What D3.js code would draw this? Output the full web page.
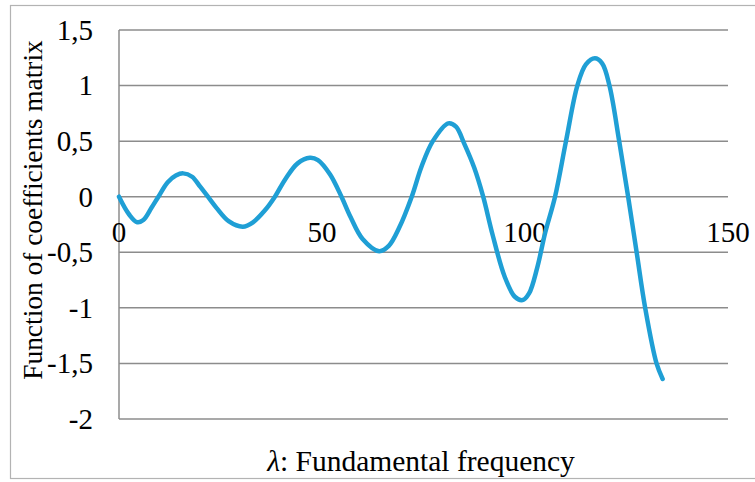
<!DOCTYPE html>
<html>
  <head>
    <script src="https://d3js.org/d3.v7.min.js"></script>
    <style>
      body { margin: 0; background: #fff; }
      text { font-family: "Liberation Serif", "DejaVu Serif", serif; fill: #000; }
      .grid line { stroke: #8c8c8c; stroke-width: 1.5px; }
      .tick-label { font-size: 29px; }
      .x-title { font-size: 29.5px; }
      .y-title { font-size: 27.4px; }
    </style>
  </head>
  <body>
    <svg width="755" height="482"></svg>
    <script>
      // values
      const lambda = [0, 2.5, 4.5, 6, 8, 9.7, 12, 14, 15.8, 18, 20, 21.9, 24, 27, 30.5, 33, 36, 38.4,
        41, 44, 47, 49, 52, 54.8, 57, 60, 64.1, 66.5, 69, 72.1, 74.5, 77.3, 81.1, 83, 85, 87.5, 89.7,
        92, 95, 97.5, 99.4, 101, 103, 105, 107.4, 110.1, 112.9, 115, 117.2, 119, 120.8, 123.2, 125.4,
        127.5, 129.6, 132.4, 133.9];
      const coef = [0, -0.16, -0.23, -0.21, -0.1, 0, 0.13, 0.19, 0.21, 0.18, 0.09, 0, -0.1, -0.22, -0.27, -0.23, -0.12, 0,
        0.16, 0.3, 0.35, 0.33, 0.2, 0, -0.18, -0.38, -0.49, -0.44, -0.28, 0, 0.27, 0.5, 0.66, 0.63, 0.48, 0.26, 0,
        -0.34, -0.72, -0.9, -0.93, -0.87, -0.64, -0.32, 0, 0.5, 1.0, 1.19, 1.245, 1.2, 1.0, 0.5, 0,
        -0.5, -1.0, -1.5, -1.64];
      const xTicks = [0, 50, 100, 150];
      const yTicks = [1.5, 1, 0.5, 0, -0.5, -1, -1.5, -2];
      const xTitle = "Fundamental frequency";
      const yTitle = "Function of coefficients matrix";

      const svg = d3.select("svg");
      const plot = {left: 119, right: 728, top: 30, bottom: 419};

      const x = d3.scaleLinear().domain([0, 150]).range([plot.left, plot.right]);
      const y = d3.scaleLinear().domain([-2, 1.5]).range([plot.bottom, plot.top]);
      const fmt = d => String(d).replace(".", ",");

      // outer frame
      svg.append("rect")
        .attr("x", 10.5).attr("y", 5.5)
        .attr("width", 760).attr("height", 473)
        .attr("fill", "none").attr("stroke", "#b3b3b3").attr("stroke-width", 1.2);

      // horizontal grid
      const grid = svg.append("g").attr("class", "grid");
      grid.selectAll("line").data(yTicks).enter().append("line")
        .attr("x1", plot.left).attr("x2", plot.right)
        .attr("y1", d => y(d)).attr("y2", d => y(d));
      // vertical axis line
      grid.append("line")
        .attr("x1", plot.left).attr("x2", plot.left)
        .attr("y1", plot.top).attr("y2", plot.bottom);

      // y tick labels
      svg.append("g").selectAll("text").data(yTicks).enter().append("text")
        .attr("class", "tick-label")
        .attr("x", 93).attr("y", d => y(d))
        .attr("dy", "0.34em")
        .attr("text-anchor", "end")
        .text(fmt);

      // x tick labels, under the zero line
      svg.append("g").selectAll("text").data(xTicks).enter().append("text")
        .attr("class", "tick-label")
        .attr("x", d => x(d)).attr("y", y(0) + 45)
        .attr("text-anchor", "middle")
        .text(fmt);

      // curve
      const pts = lambda.map((l, i) => [l, coef[i]]);
      svg.append("path")
        .datum(pts)
        .attr("fill", "none")
        .attr("stroke", "#1f9fd5")
        .attr("stroke-width", 4.5)
        .attr("stroke-linejoin", "round")
        .attr("stroke-linecap", "round")
        .attr("d", d3.line().x(d => x(d[0])).y(d => y(d[1])).curve(d3.curveCatmullRom.alpha(0.5)));

      // axis titles
      const xt = svg.append("text")
        .attr("class", "x-title")
        .attr("x", 421).attr("y", 471)
        .attr("text-anchor", "middle");
      xt.append("tspan").attr("font-style", "italic").text("λ");
      xt.append("tspan").text(": " + xTitle);

      svg.append("text")
        .attr("class", "y-title")
        .attr("transform", "translate(42,210) rotate(-90)")
        .attr("text-anchor", "middle")
        .text(yTitle);
    </script>
  </body>
</html>
